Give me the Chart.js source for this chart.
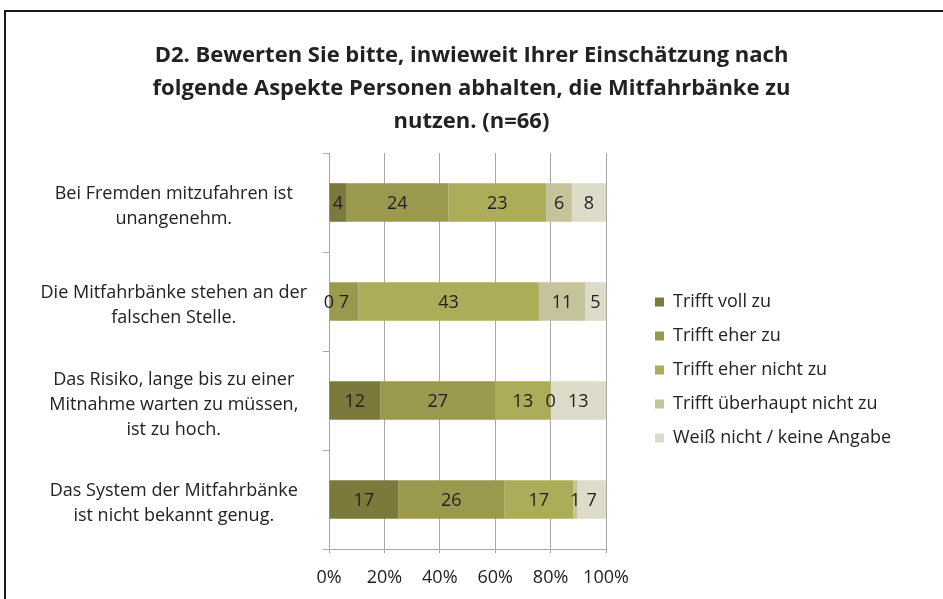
<!DOCTYPE html>
<html lang="de">
<head>
<meta charset="utf-8">
<title>D2 Mitfahrbänke</title>
<script src="https://cdn.jsdelivr.net/npm/chart.js@4"></script>
<style>
  html, body { margin: 0; padding: 0; background: #fff; overflow: hidden; }
  #wrap { position: relative; width: 943px; height: 599px; }
  #frame { position: absolute; left: 4px; top: 10px; width: 1000px; height: 700px;
           border: 2px solid #1a1a1a; pointer-events: none; }
</style>
</head>
<body>
<div id="wrap">
  <canvas id="chart" width="943" height="599"></canvas>
  <div id="frame"></div>
</div>
<script>
const categories = [
  ['Bei Fremden mitzufahren ist', 'unangenehm.'],
  ['Die Mitfahrbänke stehen an der', 'falschen Stelle.'],
  ['Das Risiko, lange bis zu einer', 'Mitnahme warten zu müssen,', 'ist zu hoch.'],
  ['Das System der Mitfahrbänke', 'ist nicht bekannt genug.']
];

const seriesNames = [
  'Trifft voll zu',
  'Trifft eher zu',
  'Trifft eher nicht zu',
  'Trifft überhaupt nicht zu',
  'Weiß nicht / keine Angabe'
];

// counts per answer, one entry per statement
const trifftVoll = [4, 0, 12, 17];
const trifftEher = [24, 7, 27, 26];
const eherNicht = [23, 43, 13, 17];
const ueberhauptNicht = [6, 11, 0, 1];
const weissNicht = [8, 5, 13, 7];

const xTicks = [0, 20, 40, 60, 80, 100];

const colors = ['#7b7a3c', '#9a994e', '#adac58', '#c4c39c', '#dcdcc8'];

const counts = [trifftVoll, trifftEher, eherNicht, ueberhauptNicht, weissNicht];
const totals = categories.map((_, i) => counts.reduce((s, arr) => s + arr[i], 0));

const font = "'Open Sans', 'Noto Sans', sans-serif";
const textColor = '#222';
const gridColor = '#a8a8a8';

// value labels in the middle of each segment
const countLabels = {
  id: 'countLabels',
  afterDatasetsDraw(chart) {
    const ctx = chart.ctx;
    ctx.save();
    ctx.font = '18px ' + font;
    ctx.fillStyle = textColor;
    ctx.textAlign = 'center';
    ctx.textBaseline = 'middle';
    chart.data.datasets.forEach((ds, d) => {
      chart.getDatasetMeta(d).data.forEach((bar, i) => {
        ctx.fillText(String(ds.counts[i]), (bar.x + bar.base) / 2, bar.y + 1);
      });
    });
    ctx.restore();
  }
};

// keep the legend block off to the right like in the original
const legendPlace = {
  id: 'legendPlace',
  beforeLayout(chart) {
    const lg = chart.legend;
    if (lg && !lg._fixedWidth) {
      const fit = lg.fit;
      lg.fit = function () { fit.call(this); this.width = 337; };
      lg._fixedWidth = true;
    }
  },
  afterLayout(chart) {
    const lg = chart.legend;
    lg.left = 639;
    lg.right = 639 + 337;
    lg.top = 270;
    lg.bottom = 470;
  }
};

new Chart(document.getElementById('chart'), {
  type: 'bar',
  data: {
    labels: categories,
    datasets: seriesNames.map((name, k) => ({
      label: name,
      counts: counts[k],
      data: counts[k].map((v, i) => v / totals[i] * 100),
      backgroundColor: colors[k],
      borderWidth: 0,
      barPercentage: 0.39,
      categoryPercentage: 1
    }))
  },
  options: {
    indexAxis: 'y',
    responsive: false,
    animation: false,
    layout: { padding: { left: 0, right: 0, top: 0, bottom: 0 } },
    plugins: {
      title: {
        display: true,
        text: [
          'D2. Bewerten Sie bitte, inwieweit Ihrer Einschätzung nach',
          'folgende Aspekte Personen abhalten, die Mitfahrbänke zu',
          'nutzen. (n=66)'
        ],
        color: textColor,
        font: { family: font, size: 22, weight: 'bold', lineHeight: 1.5 },
        padding: { top: 39, bottom: 15 }
      },
      legend: {
        position: 'right',
        labels: {
          color: textColor,
          font: { family: font, size: 18 },
          boxWidth: 9,
          boxHeight: 9,
          padding: 16
        }
      },
      tooltip: { enabled: false }
    },
    scales: {
      x: {
        stacked: true,
        min: 0,
        max: 100,
        afterFit(scale) { scale.height = 50; },
        afterBuildTicks(scale) { scale.ticks = xTicks.map(v => ({ value: v })); },
        ticks: {
          color: textColor,
          font: { family: font, size: 18 },
          padding: 14,
          callback: v => v + '%'
        },
        grid: { color: gridColor, tickLength: 4, drawTicks: true },
        border: { display: true, color: gridColor }
      },
      y: {
        stacked: true,
        afterFit(scale) { scale.width = 329; },
        ticks: {
          color: textColor,
          font: { family: font, size: 18, lineHeight: 1.39 },
          crossAlign: 'center',
          padding: 16,
          labelOffset: 4
        },
        grid: {
          offset: true,
          drawOnChartArea: false,
          drawTicks: true,
          tickLength: 6,
          color: gridColor
        },
        border: { display: true, color: gridColor }
      }
    }
  },
  plugins: [countLabels, legendPlace]
});
</script>
</body>
</html>
